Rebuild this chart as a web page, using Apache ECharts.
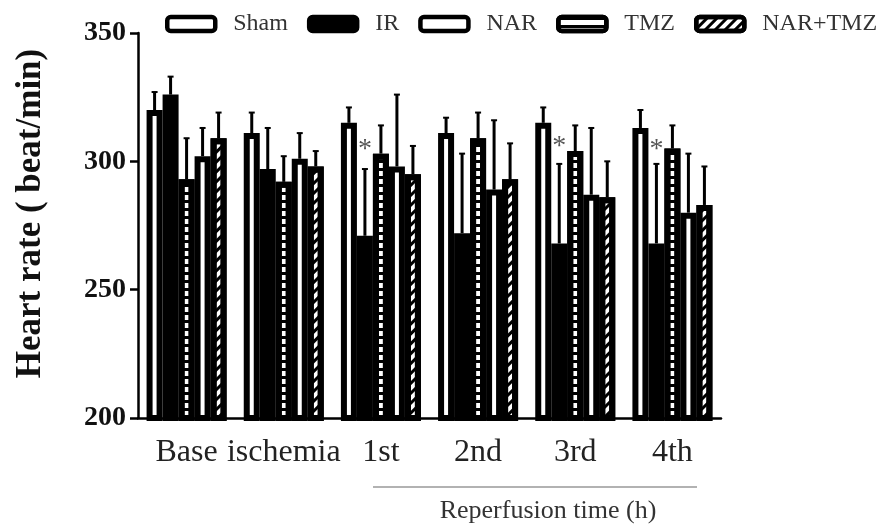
<!DOCTYPE html>
<html>
<head>
<meta charset="utf-8">
<script src="https://cdn.jsdelivr.net/npm/echarts@6/dist/echarts.min.js"></script>
<style>
  html, body { margin: 0; padding: 0; background: #fff; }
  #chart { width: 884px; height: 526px; }
</style>
</head>
<body>
<div id="chart"></div>
<script>
// heart rate bars, 5 groups per time point

const categories = ['Base', 'ischemia', '1st', '2nd', '3rd', '4th'];

// plotted left to right inside each group
const sham = [320, 311, 315, 311, 315, 313];
const shamErr = [7, 8, 6, 6, 6, 7];
const ir = [326, 297, 271, 272, 268, 268];
const irErr = [7, 16, 26, 31, 31, 31];
const tmz = [293, 292, 303, 309, 304, 305];
const tmzErr = [16, 10, 11, 10, 10, 9];
const nar = [302, 301, 298, 289, 287, 280];
const narErr = [11, 10, 28, 27, 26, 23];
const narTmz = [309, 298, 295, 293, 286, 283];
const narTmzErr = [10, 6, 11, 14, 14, 15];

// asterisk marks over IR (y value where drawn)
const starY = [null, null, 307, null, 308, 307];

const yTicks = [200, 250, 300, 350];
const legendOrder = ['Sham', 'IR', 'NAR', 'TMZ', 'NAR+TMZ'];

const serif = "'Liberation Serif', 'Times New Roman', serif";
const barW = 16;

const chartBox = document.getElementById('chart');
var chart = echarts.init(chartBox, null, { renderer: 'canvas' });

function barSeries(name, vals, fill, decal) {
    const s = {
        name: name,
        type: 'bar',
        data: vals,
        barWidth: barW,
        barGap: '0%',
        itemStyle: {
            color: fill,
            borderColor: '#000',
            borderWidth: 6
        },
        z: 2
    };
    if (decal) {
        s.itemStyle.decal = decal;
    }
    return s;
}

function errSeries(vals, errs, idx) {
    return {
        type: 'custom',
        z: 3,
        silent: true,
        data: vals.map((v, i) => [i, v, errs[i]]),
        renderItem: function (params, api) {
            const shift = (idx - 2) * barW;
            const base = api.coord([api.value(0), api.value(1)]);
            const top = api.coord([api.value(0), api.value(1) + api.value(2)]);
            const x = base[0] + shift;
            return {
                type: 'group',
                children: [
                    { type: 'line', shape: { x1: x, y1: base[1], x2: x, y2: top[1] },
                      style: { stroke: '#000', lineWidth: 3 } },
                    { type: 'line', shape: { x1: x - 3, y1: top[1], x2: x + 3, y2: top[1] },
                      style: { stroke: '#000', lineWidth: 2 } }
                ]
            };
        }
    };
}

const stripes = {
    symbol: 'rect',
    symbolSize: 1,
    color: '#000',
    dashArrayX: [1, 0],
    dashArrayY: [3, 5],
    rotation: 0
};
const hatch = {
    symbol: 'rect',
    symbolSize: 1,
    color: '#000',
    dashArrayX: [1, 0],
    dashArrayY: [2.5, 3.2],
    rotation: -Math.PI / 4
};

var option = {
    animation: false,
    backgroundColor: '#fff',
    grid: {
        left: 138,
        right: 163,
        top: 33,
        bottom: 108
    },
    legend: {
        data: legendOrder,
        left: 165,
        top: 12,
        padding: 0,
        icon: 'roundRect',
        itemWidth: 48,
        itemHeight: 14,
        itemGap: 19,
        itemStyle: {
            borderColor: '#000',
            borderWidth: 4.5
        },
        textStyle: {
            fontFamily: serif,
            fontSize: 24,
            color: '#333',
            padding: [0, 0, 0, 13]
        }
    },
    xAxis: {
        type: 'category',
        data: categories,
        axisLine: { lineStyle: { color: '#000', width: 2.5 } },
        axisTick: { show: false },
        axisLabel: {
            interval: 0,
            fontFamily: serif,
            fontSize: 32,
            color: '#222',
            margin: 19
        }
    },
    yAxis: {
        type: 'value',
        min: yTicks[0],
        max: yTicks[yTicks.length - 1],
        interval: 50,
        name: 'Heart rate ( beat/min)',
        nameLocation: 'middle',
        nameGap: 90,
        nameTextStyle: {
            fontFamily: serif,
            fontSize: 35,
            fontWeight: 'bold',
            color: '#111',
            padding: [0, 0, 0, 24]
        },
        splitLine: { show: false },
        axisLine: { show: true, lineStyle: { color: '#000', width: 2.5 } },
        axisTick: { show: true, length: 8, lineStyle: { color: '#000', width: 2.5 } },
        axisLabel: {
            fontFamily: serif,
            fontSize: 28,
            fontWeight: 'bold',
            color: '#111',
            margin: 12
        }
    },
    graphic: [
        {
            type: 'line',
            shape: { x1: 373, y1: 487, x2: 697, y2: 487 },
            style: { stroke: '#999', lineWidth: 1.5 }
        },
        {
            type: 'text',
            x: 548,
            y: 511,
            style: {
                text: 'Reperfusion time (h)',
                font: '26px ' + serif,
                fill: '#333',
                align: 'center',
                verticalAlign: 'middle'
            }
        }
    ],
    series: [
        barSeries('Sham', sham, '#fff'),
        barSeries('IR', ir, '#000'),
        barSeries('TMZ', tmz, '#fff', stripes),
        barSeries('NAR', nar, '#fff'),
        barSeries('NAR+TMZ', narTmz, '#fff', hatch),
        errSeries(sham, shamErr, 0),
        errSeries(ir, irErr, 1),
        errSeries(tmz, tmzErr, 2),
        errSeries(nar, narErr, 3),
        errSeries(narTmz, narTmzErr, 4),
        {
            type: 'custom',
            z: 4,
            silent: true,
            data: starY.map((v, i) => [i, v]).filter(d => d[1] !== null),
            renderItem: function (params, api) {
                const p = api.coord([api.value(0), api.value(1)]);
                return {
                    type: 'text',
                    x: p[0] - barW,
                    y: p[1] + 6,
                    style: {
                        text: '*',
                        font: '28px ' + serif,
                        fill: '#555',
                        align: 'center',
                        verticalAlign: 'middle'
                    }
                };
            }
        }
    ]
};

option && chart.setOption(option);
</script>
</body>
</html>
